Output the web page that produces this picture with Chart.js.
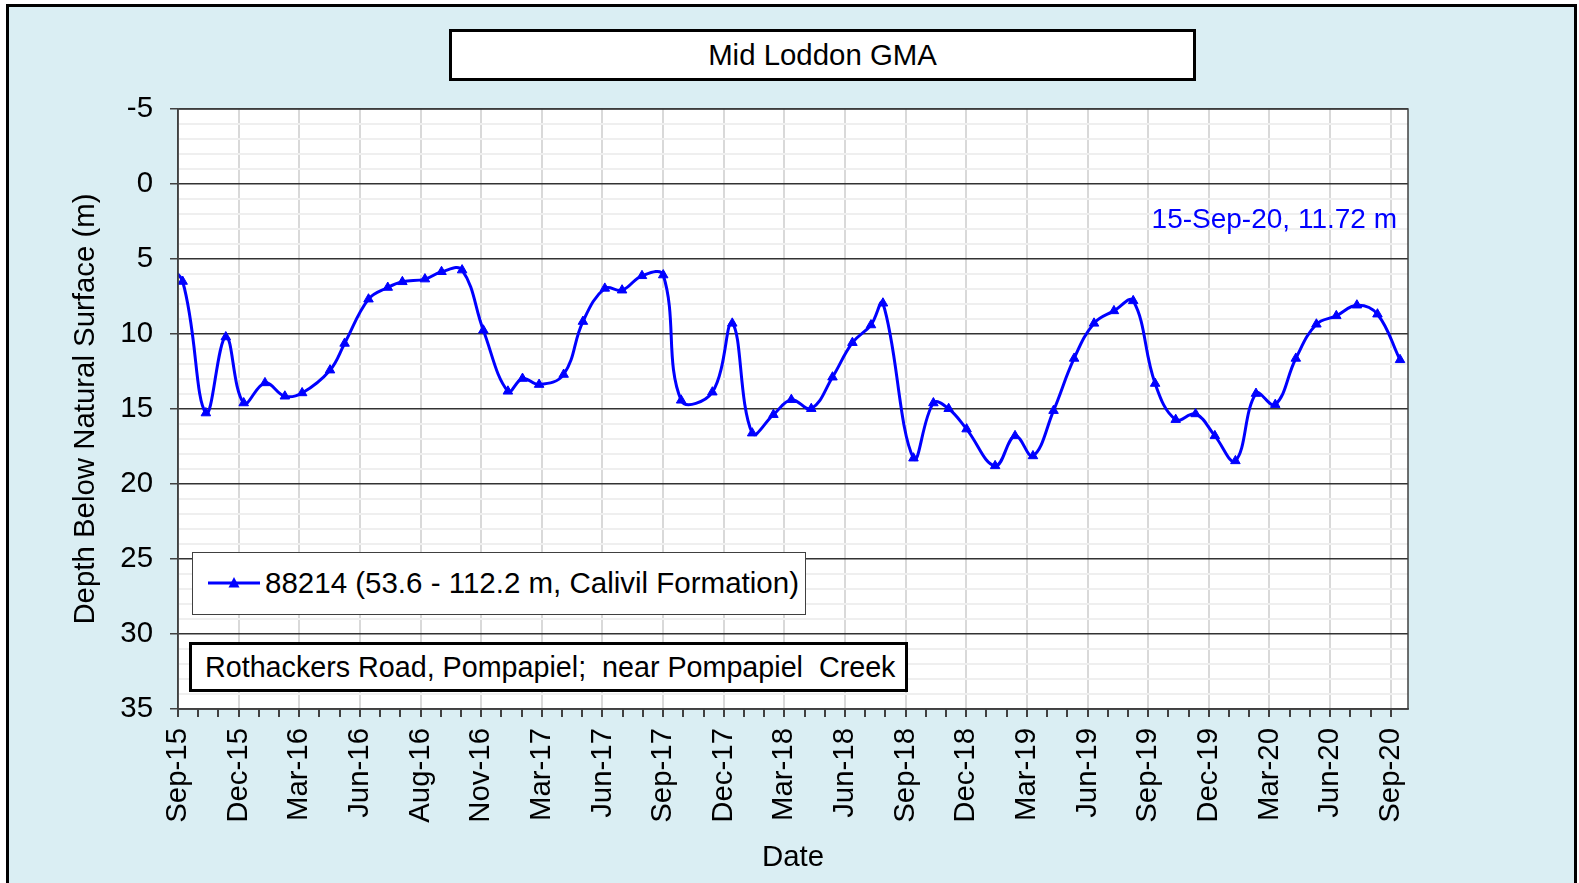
<!DOCTYPE html>
<html>
<head>
<meta charset="utf-8">
<title>Mid Loddon GMA</title>
<script src="https://cdn.jsdelivr.net/npm/chart.js@4.4.0/dist/chart.umd.min.js"></script>
<style>
  body { margin: 0; background: #fff; font-family: "Liberation Sans", Arial, sans-serif; }
  #wrap { position: relative; width: 1579px; height: 883px; overflow: hidden; }
  #frame { position: absolute; left: 6px; top: 4px; width: 1571px; height: 900px; box-sizing: border-box;
           border: 3px solid #000; background: #DAEEF3; }
  #chart { position: absolute; left: 0; top: 0; }
  .box { position: absolute; box-sizing: border-box; background: #fff; color: #000; font-size: 29.4px; }
  #title { left: 449px; top: 29px; width: 747px; height: 52px; border: 3px solid #000;
           display: flex; align-items: center; justify-content: center; }
  #legend { left: 192px; top: 552px; width: 614px; height: 63px; border: 1px solid #404040; }
  #legend span { position: absolute; left: 72px; top: 12px; line-height: 36px; white-space: pre; font-size: 29.5px; }
  #legend svg { position: absolute; left: 13px; top: 22px; }
  #site { left: 189px; top: 642px; width: 719px; height: 50px; border: 3px solid #000; font-size: 28.7px;
          display: flex; align-items: center; padding-left: 13px; white-space: pre; }
  #latest { position: absolute; right: 182px; top: 202px; line-height: 34px; font-size: 28px; color: #0000FF; }
</style>
</head>
<body>
<div id="wrap">
  <div id="frame"></div>
  <canvas id="chart" width="1579" height="883"></canvas>
  <div class="box" id="title">Mid Loddon GMA</div>
  <div class="box" id="legend">
    <svg width="56" height="16"><line x1="2" y1="8" x2="54" y2="8" stroke="#0000FF" stroke-width="3"/><polygon points="28,2 33.5,12.5 22.5,12.5" fill="#0000FF"/></svg>
    <span>88214 (53.6 - 112.2 m, Calivil Formation)</span>
  </div>
  <div class="box" id="site">Rothackers Road, Pompapiel;  near Pompapiel  Creek</div>
  <div id="latest">15-Sep-20, 11.72 m</div>
</div>
<script>
// Data (depth below natural surface, m)
const dates = [
  '2015-08-10', '2015-09-08', '2015-10-13', '2015-11-12', '2015-12-09', '2016-01-10', '2016-02-09',
  '2016-03-06', '2016-04-17', '2016-05-09', '2016-06-14', '2016-07-13', '2016-08-04', '2016-09-07',
  '2016-10-02', '2016-11-02', '2016-12-04', '2017-01-10', '2017-02-01', '2017-02-26', '2017-04-04',
  '2017-05-03', '2017-06-05', '2017-07-01', '2017-07-31', '2017-09-01', '2017-09-28', '2017-11-14',
  '2017-12-14', '2018-01-13', '2018-02-14', '2018-03-13', '2018-04-12', '2018-05-14', '2018-06-13',
  '2018-07-11', '2018-07-29', '2018-09-13', '2018-10-13', '2018-11-05', '2018-12-02', '2019-01-14',
  '2019-02-13', '2019-03-12', '2019-04-12', '2019-05-13', '2019-06-12', '2019-07-12', '2019-08-10',
  '2019-09-12', '2019-10-13', '2019-11-12', '2019-12-11', '2020-01-11', '2020-02-11', '2020-03-11',
  '2020-04-11', '2020-05-12', '2020-06-11', '2020-07-12', '2020-08-12', '2020-09-15'
];
const depths = [
  5.4, 6.50, 15.27, 10.20, 14.60, 13.26, 14.15,
  13.93, 12.41, 10.63, 7.68, 6.90, 6.52, 6.34,
  5.85, 5.74, 9.75, 13.82, 12.97, 13.37, 12.70,
  9.17, 6.96, 7.08, 6.12, 6.07, 14.42, 13.88,
  9.29, 16.61, 15.38, 14.38, 14.98, 12.88, 10.58,
  9.40, 7.95, 18.28, 14.60, 14.98, 16.34, 18.79,
  16.79, 18.13, 15.11, 11.63, 9.29, 8.46, 7.79,
  13.30, 15.71, 15.33, 16.79, 18.46, 13.97, 14.71,
  11.63, 9.35, 8.79, 8.08, 8.68, 11.72
];
const tickLabels = [
  'Sep-15', 'Dec-15', 'Mar-16', 'Jun-16', 'Aug-16', 'Nov-16', 'Mar-17', 'Jun-17', 'Sep-17', 'Dec-17',
  'Mar-18', 'Jun-18', 'Sep-18', 'Dec-18', 'Mar-19', 'Jun-19', 'Sep-19', 'Dec-19', 'Mar-20', 'Jun-20', 'Sep-20'
];

// x axis in days since 1-Sep-2015 (Excel style major unit)
const ORIGIN = Date.UTC(2015, 8, 1);
const MAJOR = 91.35;
const X_MAX = 1853;
const toDay = s => {
  const [y, m, d] = s.split('-').map(Number);
  return (Date.UTC(y, m - 1, d) - ORIGIN) / 86400000;
};

const points = dates.map((d, i) => ({ x: toDay(d), y: depths[i] }));

const FONT = { family: '"Liberation Sans", Arial, sans-serif', size: 29.4 };

const plotFrame = {
  id: 'plotFrame',
  beforeDraw(chart) {
    const { ctx, chartArea: a } = chart;
    ctx.save();
    ctx.fillStyle = '#fff';
    ctx.fillRect(a.left, a.top, a.right - a.left, a.bottom - a.top);
    ctx.restore();
  },
  afterDraw(chart) {
    const { ctx, chartArea: a } = chart;
    ctx.save();
    ctx.strokeStyle = '#404040';
    ctx.lineWidth = 1.5;
    ctx.strokeRect(a.left, a.top, a.right - a.left, a.bottom - a.top);
    ctx.restore();
  }
};

new Chart(document.getElementById('chart'), {
  type: 'line',
  data: {
    datasets: [{
      label: '88214 (53.6 - 112.2 m, Calivil Formation)',
      data: points,
      borderColor: '#0000FF',
      backgroundColor: '#0000FF',
      borderWidth: 3,
      tension: 0.4,
      pointStyle: 'triangle',
      pointRadius: 5.5,
      pointBorderWidth: 1,
      clip: { left: 0, top: 6, right: 6, bottom: 6 },
    }]
  },
  options: {
    responsive: false,
    animation: false,
    layout: { padding: { left: 40, top: 109, right: 171, bottom: 0 } },
    plugins: { legend: { display: false }, title: { display: false }, tooltip: { enabled: false } },
    scales: {
      x: {
        type: 'linear',
        min: 0,
        max: X_MAX,
        afterBuildTicks(scale) {
          const ticks = [];
          for (let i = 0; i <= (tickLabels.length - 1) * 3; i++) ticks.push({ value: i * MAJOR / 3 });
          scale.ticks = ticks;
        },
        afterFit(scale) { scale.height = 174; },
        ticks: {
          autoSkip: false,
          minRotation: 90,
          maxRotation: 90,
          padding: 11,
          color: '#000',
          font: FONT,
          callback: (v, i) => (i % 3 === 0 ? tickLabels[i / 3] : ''),
        },
        grid: {
          color: c => (c.index % 3 === 0 ? '#D9D9D9' : 'rgba(0,0,0,0)'),
          lineWidth: 2,
          tickColor: '#404040',
          tickLength: 8,
        },
        border: { color: '#404040', width: 1.5 },
        title: { display: true, text: 'Date', color: '#000', font: FONT, padding: { top: 0, bottom: 7 } },
      },
      y: {
        reverse: true,
        min: -5,
        max: 35,
        afterFit(scale) { scale.width = 138; },
        ticks: {
          stepSize: 1,
          autoSkip: false,
          padding: 17,
          color: '#000',
          font: FONT,
          callback: v => (v % 5 === 0 ? v : ''),
        },
        grid: {
          color: c => (c.tick.value % 5 === 0 ? '#333333' : '#EFEFEF'),
          lineWidth: c => (c.tick.value % 5 === 0 ? 1.5 : 2),
          tickColor: c => (c.tick.value % 5 === 0 ? '#404040' : 'rgba(0,0,0,0)'),
          tickLength: 8,
        },
        border: { color: '#404040', width: 1.5 },
        title: {
          display: true, text: 'Depth Below Natural Surface (m)', color: '#000', font: FONT,
          padding: { top: 28, bottom: 0 }
        },
      }
    }
  },
  plugins: [plotFrame]
});
</script>
</body>
</html>
